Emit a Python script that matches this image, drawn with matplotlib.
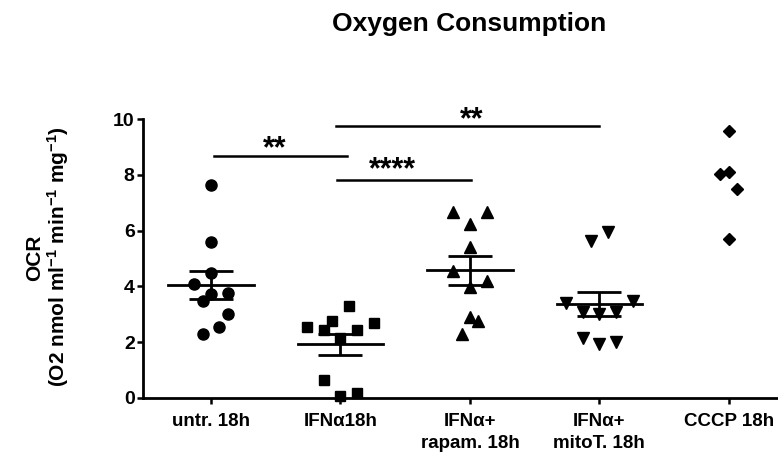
import numpy as np
import matplotlib
matplotlib.use("Agg")
import matplotlib.pyplot as plt

plt.rcParams['font.family'] = ['Liberation Sans', 'DejaVu Sans']
plt.rcParams['font.weight'] = 'bold'
plt.rcParams['mathtext.default'] = 'regular'

# ---------- data ----------
groups = ['untr. 18h', 'IFNα18h', 'IFNα+\nrapam. 18h', 'IFNα+\nmitoT. 18h', 'CCCP 18h']

untr = [7.63, 5.60, 4.49, 4.07, 3.72, 3.75, 3.48, 3.00, 2.56, 2.28]
ifna = [3.30, 2.53, 2.77, 2.44, 2.44, 2.68, 2.16, 0.65, 0.07, 0.17]
rapam = [6.68, 6.68, 6.24, 5.42, 4.56, 4.20, 3.99, 2.91, 2.76, 2.28]
mitot = [5.96, 5.64, 3.39, 3.49, 3.07, 3.01, 3.07, 2.14, 1.92, 2.02]
cccp = [9.57, 8.03, 8.11, 7.49, 5.69]

# horizontal scatter of the points (in category units)
jit_untr = [0, 0, 0, -0.13, 0, 0.13, -0.064, 0.13, 0.064, -0.064]
jit_ifna = [0.064, -0.257, -0.064, -0.13, 0.13, 0.257, 0, -0.13, 0, 0.13]
jit_rapam = [-0.13, 0.13, 0, 0, -0.13, 0.13, 0, 0, 0.064, -0.064]
jit_mitot = [0.064, -0.064, -0.257, 0.257, -0.13, 0, 0.13, -0.13, 0, 0.13]
jit_cccp = [0, -0.07, 0, 0.064, 0]

series = [untr, ifna, rapam, mitot, cccp]
jitters = [jit_untr, jit_ifna, jit_rapam, jit_mitot, jit_cccp]
markers = ['o', 's', '^', 'v', 'D']
msizes = [8, 7.5, 8, 8, 6]
show_mean = [True, True, True, True, False]

# significance brackets
sig_x0 = [0.02, 0.97, 0.965]
sig_x1 = [1.05, 2.01, 3.0]
sig_y = [8.67, 7.81, 9.75]
sig_tx = [0.49, 1.405, 2.015]
sig_ty = [8.64, 7.86, 9.68]
sig_lbl = ['**', '****', '**']

fig = plt.figure(figsize=(7.78, 4.59), dpi=100)
ax = fig.add_axes([0.1838, 0.1329, 0.8162, 0.6078])

for i, vals in enumerate(series):
    vals = np.array(vals)
    xs = i + np.array(jitters[i])
    ax.plot(xs, vals, linestyle='none', marker=markers[i], ms=msizes[i],
            color='black', clip_on=False, zorder=3)
    if show_mean[i]:
        # mean line with SEM whiskers
        m = vals.mean()
        sem = vals.std(ddof=1) / np.sqrt(len(vals))
        ax.plot([i - 0.33, i + 0.33], [m, m], color='black', lw=2, zorder=4)
        ax.errorbar(i, m, yerr=sem, fmt='none', ecolor='black', elinewidth=2,
                    capsize=16, capthick=2, zorder=4)

for x0, x1, y, tx, ty, lbl in zip(sig_x0, sig_x1, sig_y, sig_tx, sig_ty, sig_lbl):
    ax.plot([x0, x1], [y, y], color='black', lw=1.8, clip_on=False)
    ax.text(tx, ty, lbl, ha='center', va='baseline', fontsize=22,
            fontweight='bold', clip_on=False)

ax.set_xlim(-0.525, 4.38)
ax.set_ylim(0, 10)
ax.set_yticks([0, 2, 4, 6, 8, 10])
ax.set_xticks(range(len(groups)))
ax.set_xticklabels(groups, fontsize=13.5, fontweight='bold', linespacing=1.4)
ax.tick_params(axis='y', labelsize=14, width=1.8, length=4, pad=2, direction='out')
ax.tick_params(axis='x', width=1.8, length=4, pad=7, direction='out')
for lbl in ax.get_yticklabels():
    lbl.set_fontweight('bold')

for s in ['top', 'right']:
    ax.spines[s].set_visible(False)
for s in ['left', 'bottom']:
    ax.spines[s].set_linewidth(2)

# y label as two rotated lines
fig.text(34.5 / 778, 1 - 258 / 459, 'OCR', rotation=90, ha='center',
         va='center', fontsize=15, fontweight='bold')
fig.text(58 / 778, 1 - 257 / 459, '(O2 nmol ml$^{-1}$ min$^{-1}$ mg$^{-1}$)',
         rotation=90, ha='center', va='center', fontsize=15, fontweight='bold')

fig.text(469 / 778, 1 - 30.7 / 459, 'Oxygen Consumption', ha='center',
         va='baseline', fontsize=19, fontweight='bold')

fig.savefig('out.png', dpi=100)
